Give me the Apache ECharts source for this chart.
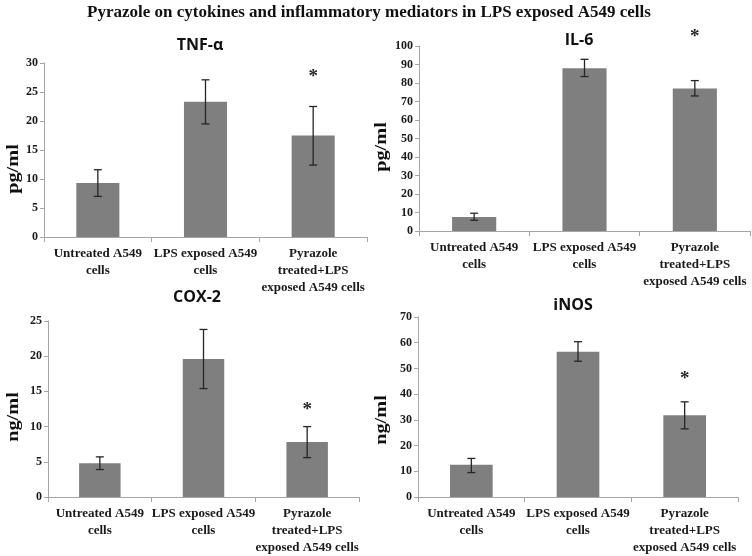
<!DOCTYPE html>
<html>
<head>
<meta charset="utf-8">
<script src="https://cdn.jsdelivr.net/npm/echarts@6/dist/echarts.min.js"></script>
<style>
html,body{margin:0;padding:0;background:#fff;}
#c{width:752px;height:556px;}
</style>
</head>
<body>
<div id="c"></div>
<script>
var categories = ['Untreated A549\ncells', 'LPS exposed A549\ncells', 'Pyrazole\ntreated+LPS\nexposed A549 cells'];

var tnfMean = [9.3, 23.3, 17.5];
var tnfLow  = [7.0, 19.5, 12.4];
var tnfHigh = [11.6, 27.1, 22.5];

var il6Mean = [7.6, 88.0, 77.0];
var il6Low  = [5.8, 83.5, 73.0];
var il6High = [9.6, 92.8, 81.3];

var cox2Mean = [4.8, 19.6, 7.8];
var cox2Low  = [3.9, 15.4, 5.6];
var cox2High = [5.7, 23.8, 10.0];

var inosMean = [12.5, 56.5, 31.8];
var inosLow  = [9.5, 52.8, 26.5];
var inosHigh = [15.0, 60.4, 37.0];

// significance marker (*) position above the treated group
var starTnf = 27.6, starIl6 = 105, starCox2 = 12.3, starInos = 46;

var panelTitles = ['TNF-\u03b1', 'IL-6', 'COX-2', 'iNOS'];
var yNames = ['pg/ml', 'pg/ml', 'ng/ml', 'ng/ml'];
var yMax = [30, 100, 25, 70];
var yInterval = [5, 10, 5, 10];

var panels = [
  {mean: tnfMean, low: tnfLow, high: tnfHigh, star: starTnf},
  {mean: il6Mean, low: il6Low, high: il6High, star: starIl6},
  {mean: cox2Mean, low: cox2Low, high: cox2High, star: starCox2},
  {mean: inosMean, low: inosLow, high: inosHigh, star: starInos}
];

var grids = [
  {left: 44, top: 63, width: 323, height: 174},
  {left: 419, top: 46, width: 331, height: 185},
  {left: 48, top: 321, width: 311, height: 178},
  {left: 418, top: 317, width: 320, height: 181}
];
var titlePos = [[200, 45], [579, 40], [197, 297], [573, 305]];
var yNamePos = [[14, 169], [382, 147], [14, 417], [382, 420]];

var serif = '"Liberation Serif", "DejaVu Serif", serif';
var chart = echarts.init(document.getElementById('c'));

var xAxes = [], yAxes = [], series = [], graphics = [];

grids.forEach(function (g, i) {
  xAxes.push({
    type: 'category', gridIndex: i, data: categories,
    axisLine: {lineStyle: {color: '#a6a6a6', width: 1}},
    axisTick: {show: true, length: 5, lineStyle: {color: '#a6a6a6'}},
    axisLabel: {interval: 0, fontFamily: serif, fontWeight: 'bold', fontSize: 13, color: '#1a1a1a', lineHeight: 17, margin: 8}
  });
  yAxes.push({
    type: 'value', gridIndex: i, min: 0, max: yMax[i], interval: yInterval[i],
    axisLine: {show: true, lineStyle: {color: '#a6a6a6', width: 1}},
    axisTick: {show: true, length: 4, lineStyle: {color: '#a6a6a6'}},
    splitLine: {show: false},
    axisLabel: {fontFamily: serif, fontWeight: 'bold', fontSize: 12, color: '#1a1a1a', margin: 6}
  });
  var p = panels[i];
  series.push({
    type: 'bar', xAxisIndex: i, yAxisIndex: i, data: p.mean, barWidth: '40%', z: 2,
    itemStyle: {color: '#7f7f7f'}, silent: true, animation: false
  });
  var errData = p.mean.map(function (m, k) { return [k, p.low[k], p.high[k]]; });
  series.push({
    type: 'custom', xAxisIndex: i, yAxisIndex: i, data: errData, animation: false, silent: true, z: 5,
    renderItem: function (params, api) {
      var lo = api.coord([api.value(0), api.value(1)]);
      var hi = api.coord([api.value(0), api.value(2)]);
      var hw = 4;
      var st = {stroke: '#262626', lineWidth: 1.3};
      return {type: 'group', children: [
        {type: 'line', shape: {x1: lo[0], y1: lo[1], x2: hi[0], y2: hi[1]}, style: st},
        {type: 'line', shape: {x1: hi[0] - hw, y1: hi[1], x2: hi[0] + hw, y2: hi[1]}, style: st},
        {type: 'line', shape: {x1: lo[0] - hw, y1: lo[1], x2: lo[0] + hw, y2: lo[1]}, style: st}
      ]};
    }
  });
  series.push({
    type: 'custom', xAxisIndex: i, yAxisIndex: i, data: [[2, p.star]], clip: false, animation: false, silent: true, z: 5,
    renderItem: function (params, api) {
      var pt = api.coord([api.value(0), api.value(1)]);
      return {type: 'text', x: pt[0], y: pt[1], style: {text: '*', fontFamily: serif, fontWeight: 'bold', fontSize: 19, fill: '#262626', align: 'center', verticalAlign: 'middle'}};
    }
  });
  graphics.push({
    type: 'text', x: titlePos[i][0], y: titlePos[i][1],
    style: {text: panelTitles[i], font: 'bold 16px "Open Sans", "Noto Sans", sans-serif', fill: '#111', align: 'center', verticalAlign: 'middle'}
  });
  graphics.push({
    type: 'text', x: yNamePos[i][0], y: yNamePos[i][1], rotation: Math.PI / 2, scaleX: 1.27, scaleY: 1,
    style: {text: yNames[i], font: 'bold 16px "Liberation Serif", serif', fill: '#111', align: 'center', verticalAlign: 'middle'}
  });
});

graphics.push({
  type: 'text', x: 369, y: 13,
  style: {text: 'Pyrazole on cytokines and inflammatory mediators in LPS exposed A549 cells', font: 'bold 17px "Liberation Serif", serif', fill: '#111', align: 'center', verticalAlign: 'middle'}
});

chart.setOption({
  animation: false,
  grid: grids,
  xAxis: xAxes,
  yAxis: yAxes,
  series: series,
  graphic: graphics
});
</script>
</body>
</html>
